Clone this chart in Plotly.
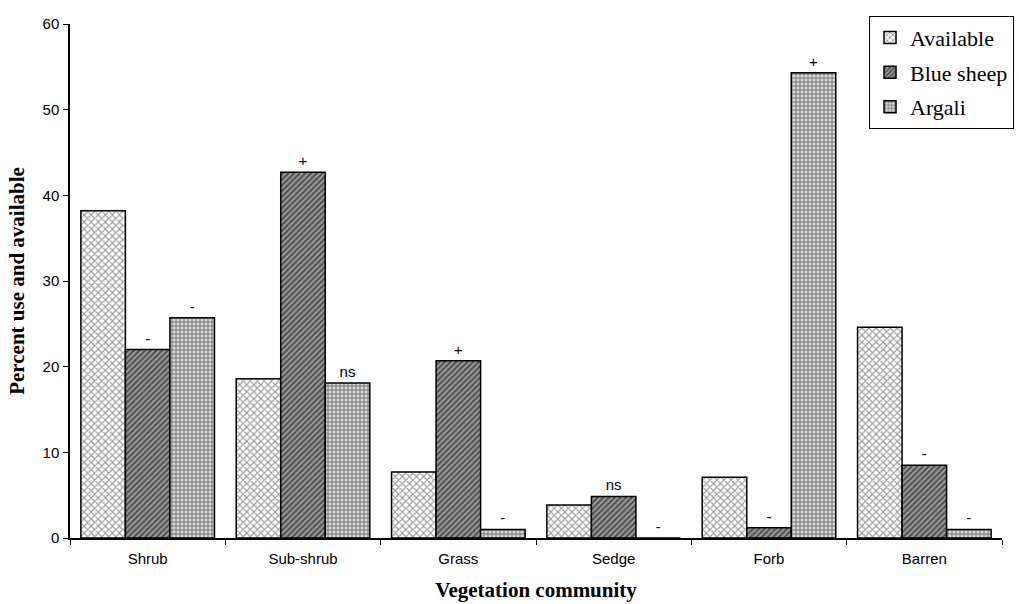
import plotly.graph_objects as go

categories = ["Shrub", "Sub-shrub", "Grass", "Sedge", "Forb", "Barren"]
available = [38.2, 18.6, 7.7, 3.85, 7.1, 24.6]
blue_sheep = [22.0, 42.7, 20.7, 4.85, 1.2, 8.5]
argali = [25.7, 18.1, 1.0, 0.0, 54.3, 1.0]
blue_sig = ["-", "+", "+", "ns", "-", "-"]
argali_sig = ["-", "ns", "-", "-", "+", "-"]
y_ticks = [0, 10, 20, 30, 40, 50, 60]

fig = go.Figure()
fig.add_trace(go.Bar(
    name="Available", x=categories, y=available, legendgroup="a",
    marker=dict(color="white", line=dict(color="black", width=1.5),
                pattern=dict(shape="x", fgcolor="#3a3a3a", bgcolor="white", size=5, solidity=0.4)),
))
fig.add_trace(go.Bar(
    name="Blue sheep", x=categories, y=blue_sheep, legendgroup="b",
    text=blue_sig, textposition="outside", cliponaxis=False,
    textfont=dict(family="Liberation Sans, Arial", size=15, color="black"),
    marker=dict(color="#9a9a9a", line=dict(color="black", width=1.5),
                pattern=dict(shape="/", fgcolor="black", bgcolor="#9c9c9c", size=4, solidity=0.5)),
))
fig.add_trace(go.Bar(
    name="Argali", x=categories, y=argali, legendgroup="c",
    text=argali_sig, textposition="outside", cliponaxis=False,
    textfont=dict(family="Liberation Sans, Arial", size=15, color="black"),
    marker=dict(color="white", line=dict(color="black", width=1.5),
                pattern=dict(shape="+", fgcolor="black", bgcolor="#d8d8d8", size=4, solidity=0.4)),
))

fig.update_layout(
    width=1019, height=604,
    paper_bgcolor="white", plot_bgcolor="white",
    margin=dict(l=70, r=17, t=24, b=66, autoexpand=False),
    barmode="group", bargap=0.14, bargroupgap=0,
    font=dict(family="Liberation Sans, Arial", size=15, color="black"),
    showlegend=True,
    legend=dict(
        x=1.0129, xanchor="right", y=1.016, yanchor="top",
        bordercolor="black", borderwidth=1, bgcolor="white",
        font=dict(family="Liberation Serif, Times New Roman", size=22, color="black"),
        traceorder="grouped", tracegroupgap=3, itemwidth=30,
    ),
)
fig.update_xaxes(
    type="category", showline=True, linecolor="black", linewidth=1.5,
    ticks="outside", ticklen=5, tickcolor="black", tickson="boundaries",
    showgrid=False, ticklabelstandoff=6,
    tickfont=dict(family="Liberation Sans, Arial", size=15, color="black"),
    title=dict(text="<b>Vegetation community</b>", standoff=17,
               font=dict(family="Liberation Serif, Times New Roman", size=21, color="black")),
)
fig.update_yaxes(
    range=[0, 60], tickvals=y_ticks, showline=True, linecolor="black", linewidth=1.5,
    ticks="outside", ticklen=5, tickcolor="black", showgrid=False, zeroline=False,
    ticklabelstandoff=1,
    tickfont=dict(family="Liberation Sans, Arial", size=15, color="black"),
    title=dict(text="<b>Percent use and available</b>", standoff=12,
               font=dict(family="Liberation Serif, Times New Roman", size=21, color="black")),
)

fig.write_html("out.html")
